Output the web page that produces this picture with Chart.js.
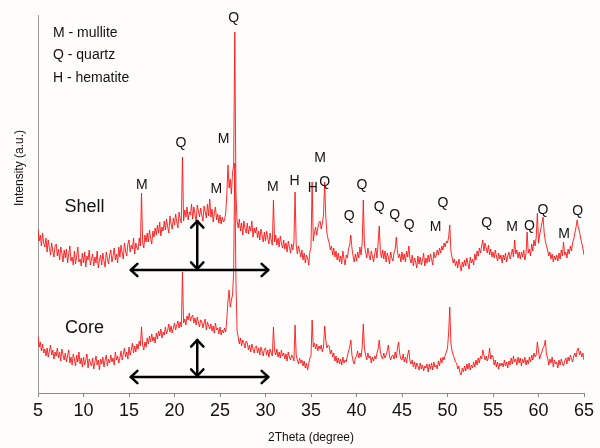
<!DOCTYPE html>
<html>
<head>
<meta charset="utf-8">
<script src="https://cdn.jsdelivr.net/npm/chart.js@4/dist/chart.umd.min.js"></script>
<style>
  html, body { margin: 0; padding: 0; background: #fffdfc; }
  #wrap { width: 600px; height: 448px; position: relative; }
</style>
</head>
<body>
<div id="wrap"><canvas id="xrd"></canvas></div>
<script>
// scan: 5 to 65 degrees 2Theta, step 0.125; one row = one degree
const thetaStart = 5;
const thetaStep = 0.125;

// intensity (a.u.)
const shell = [
  164,152,158,147,160,150,146,155,
  141,153,145,138,150,142,136,147,
  149,137,144,133,146,140,131,143,
  135,144,130,139,147,132,136,128,
  142,129,137,146,131,134,127,140,
  130,141,126,137,133,143,128,134,
  139,127,136,130,142,125,133,138,
  128,140,132,126,141,135,129,138,
  143,131,137,145,133,139,130,146,
  136,148,140,134,150,142,137,149,
  153,141,148,144,155,139,150,145,
  143,155,147,200,150,145,158,151,
  160,151,163,155,149,162,156,165,
  158,168,160,171,157,166,162,172,
  163,174,166,160,177,169,164,175,
  168,179,171,165,181,174,170,236,
  172,183,176,186,173,181,178,189,
  174,186,179,171,188,182,176,185,
  178,172,187,181,175,189,177,194,
  176,184,171,180,186,173,179,170,
  178,169,176,171,173,180,198,228,
  205,214,199,220,228,361,200,172,
  165,174,162,170,158,172,164,160,
  170,159,167,162,172,156,165,160,
  166,155,162,153,164,158,151,161,
  152,162,155,149,160,153,148,193,
  151,158,148,155,146,157,150,145,
  153,144,150,141,152,146,140,149,
  143,151,201,148,139,147,142,136,
  143,133,140,130,138,135,128,141,
  146,211,152,160,166,158,165,170,
  172,164,170,178,211,176,160,154,
  150,143,147,138,145,136,142,133,
  140,131,137,129,142,134,128,138,
  135,144,148,158,145,137,131,139,
  132,141,135,146,138,150,193,148,
  141,135,145,138,133,142,137,131,
  139,145,135,150,167,141,135,143,
  134,142,131,140,136,129,141,135,
  132,140,144,156,142,135,139,131,
  141,133,139,131,142,136,147,134,
  130,138,127,135,131,125,137,129,
  136,128,133,140,127,135,130,138,
  131,139,134,128,141,135,137,143,
  138,145,140,147,143,150,146,152,
  150,156,168,142,136,130,134,127,
  132,125,134,128,122,131,126,133,
  127,135,129,124,136,130,134,128,
  139,133,142,137,145,140,147,153,
  142,150,145,140,148,138,144,136,
  141,135,143,137,132,140,134,138,
  130,138,133,140,131,137,141,134,
  138,144,136,153,139,143,135,141,
  134,141,136,143,133,139,161,140,
  144,137,149,142,153,147,156,180,
  150,158,164,170,176,160,152,147,
  143,137,141,134,139,131,137,133,
  138,132,140,134,143,137,151,138,
  141,135,144,139,147,142,150,154,
  160,166,173,165,162,155,150,145,
  138
];

const core = [
  57,46,51,42,49,40,44,37,
  45,36,42,48,38,43,34,41,
  37,45,35,41,32,44,38,33,
  40,31,37,43,30,36,28,39,
  34,27,38,31,41,29,35,26,
  36,28,33,39,25,34,30,27,
  35,24,31,37,28,33,23,34,
  29,36,26,33,38,27,34,30,
  38,31,35,28,41,33,37,30,
  35,42,33,39,45,36,41,34,
  46,38,43,50,40,47,41,49,
  44,52,47,66,48,43,51,46,
  55,49,57,51,59,52,56,50,
  60,54,62,57,64,55,61,58,
  66,59,63,69,61,67,60,65,
  70,63,68,72,65,71,66,121,
  70,74,68,77,73,80,72,76,
  78,70,75,68,76,71,66,73,
  72,65,70,74,63,71,67,64,
  69,62,67,60,70,63,65,59,
  66,58,63,60,65,61,74,92,
  103,86,93,98,120,230,112,62,
  56,49,55,47,53,50,45,52,
  50,43,48,41,49,44,40,46,
  47,40,45,38,46,42,37,44,
  45,38,43,36,44,40,37,66,
  42,38,44,36,41,35,43,37,
  40,34,39,32,41,36,33,38,
  36,32,68,38,33,29,35,30,
  33,27,32,25,30,23,29,35,
  37,73,46,50,44,49,42,47,
  44,48,41,46,67,53,45,48,
  47,39,43,36,40,32,37,30,
  35,29,34,28,36,30,33,31,
  37,42,46,53,38,32,29,35,
  37,42,35,40,36,46,69,44,
  38,33,40,35,37,30,36,32,
  37,34,40,44,53,41,36,34,
  40,35,38,42,48,37,33,37,
  38,34,41,35,45,51,39,34,
  33,39,31,36,30,38,43,32,
  29,33,26,31,24,30,27,23,
  30,24,28,22,27,25,29,21,
  29,24,30,23,31,26,28,24,
  32,27,35,30,36,33,38,41,
  45,60,86,50,42,38,35,31,
  30,24,27,20,18,25,21,27,
  22,29,24,30,23,28,25,31,
  26,33,28,35,30,37,34,43,
  38,33,37,32,36,45,34,38,
  36,28,33,26,31,24,30,27,
  30,26,33,27,31,25,32,28,
  35,29,37,31,34,28,36,30,
  35,27,34,30,36,28,33,29,
  36,31,38,33,40,36,38,51,
  42,34,38,41,45,47,53,39,
  35,28,34,30,36,26,33,29,
  31,25,33,28,34,30,27,32,
  35,29,36,32,38,34,31,37,
  40,36,43,45,38,42,36,40,
  33
];

const xTicks = [5, 10, 15, 20, 25, 30, 35, 40, 45, 50, 55, 60, 65];

// phase labels: [text, 2Theta, intensity]
const peakLabels = [
  ['M', 16.4, 208], ['Q', 20.7, 250], ['M', 24.6, 204], ['M', 25.4, 254],
  ['Q', 26.5, 375], ['M', 30.8, 206], ['H', 33.2, 212], ['H', 35.2, 205],
  ['M', 36.0, 235], ['Q', 36.5, 211], ['Q', 39.2, 177], ['Q', 40.6, 208],
  ['Q', 42.5, 186], ['Q', 44.2, 178], ['Q', 45.8, 168], ['M', 48.7, 166],
  ['Q', 49.5, 190], ['Q', 54.3, 170], ['M', 57.1, 166], ['Q', 59.0, 167],
  ['Q', 60.5, 183], ['M', 62.8, 159], ['Q', 64.3, 182]
];
const legendLines = ['M - mullite', 'Q - quartz', 'H - hematite'];
const sampleNames = [['Shell', 10.1, 186], ['Core', 10.1, 65]];
// amorphous hump arrows: [from, to, baseline intensity, hump top intensity, hump 2Theta]
const humpArrows = [[15.2, 30.3, 123, 172, 22.5], [15.2, 30.3, 16, 53, 22.5]];

const font = 'Arial, "Liberation Sans", sans-serif';

function head(ctx, x, y, ang) {
  const s = 9;
  ctx.beginPath();
  ctx.moveTo(x + s * Math.cos(ang + 0.75), y + s * Math.sin(ang + 0.75));
  ctx.lineTo(x, y);
  ctx.lineTo(x + s * Math.cos(ang - 0.75), y + s * Math.sin(ang - 0.75));
  ctx.stroke();
}

const annotations = {
  id: 'annotations',
  afterDatasetsDraw(chart) {
    const { ctx, scales: { x, y } } = chart;
    ctx.save();
    ctx.fillStyle = '#111';
    ctx.textAlign = 'center';
    ctx.textBaseline = 'middle';
    ctx.font = '14px ' + font;
    peakLabels.forEach(([t, a, v]) => ctx.fillText(t, x.getPixelForValue(a), y.getPixelForValue(v)));

    ctx.font = '18px ' + font;
    sampleNames.forEach(([t, a, v]) => ctx.fillText(t, x.getPixelForValue(a), y.getPixelForValue(v)));

    ctx.font = '14px ' + font;
    ctx.textAlign = 'left';
    legendLines.forEach((t, i) => ctx.fillText(t, 53, 33 + i * 22.5));

    // y title sits above the middle of the axis
    ctx.font = '12px ' + font;
    ctx.textAlign = 'center';
    ctx.translate(20, 168);
    ctx.rotate(-Math.PI / 2);
    ctx.fillText('Intensity (a.u.)', 0, 0);
    ctx.setTransform(1, 0, 0, 1, 0, 0);

    ctx.strokeStyle = '#000';
    ctx.lineWidth = 2.5;
    ctx.lineCap = 'round';
    ctx.lineJoin = 'round';
    humpArrows.forEach(([a0, a1, base, top, mid]) => {
      const x0 = x.getPixelForValue(a0), x1 = x.getPixelForValue(a1);
      const yb = y.getPixelForValue(base), yt = y.getPixelForValue(top);
      const xm = x.getPixelForValue(mid);
      ctx.beginPath();
      ctx.moveTo(x0, yb); ctx.lineTo(x1, yb);
      ctx.moveTo(xm, yt); ctx.lineTo(xm, yb - 1);
      ctx.stroke();
      head(ctx, x0, yb, 0);
      head(ctx, x1, yb, Math.PI);
      head(ctx, xm, yt, Math.PI / 2);
      head(ctx, xm, yb - 1, -Math.PI / 2);
    });
    ctx.restore();
  }
};

const toXY = arr => arr.map((v, i) => ({ x: thetaStart + i * thetaStep, y: v }));

new Chart(document.getElementById('xrd'), {
  type: 'line',
  data: {
    datasets: [
      { label: 'Shell', data: toXY(shell), borderColor: 'rgba(255,20,20,0.9)', borderWidth: 1, pointRadius: 0, tension: 0 },
      { label: 'Core', data: toXY(core), borderColor: 'rgba(255,20,20,0.9)', borderWidth: 1, pointRadius: 0, tension: 0 }
    ]
  },
  options: {
    responsive: true,
    maintainAspectRatio: false,
    animation: false,
    layout: { padding: { top: 15, right: 16, left: 0, bottom: 0 } },
    plugins: { legend: { display: false }, tooltip: { enabled: false } },
    scales: {
      x: {
        type: 'linear',
        min: 5,
        max: 65,
        afterBuildTicks: scale => { scale.ticks = xTicks.map(v => ({ value: v })); },
        afterFit: scale => { scale.height = 55; },
        ticks: { font: { family: font, size: 18 }, color: '#111', padding: 3, maxRotation: 0 },
        grid: { drawOnChartArea: false, drawTicks: true, tickLength: 4, color: '#888' },
        border: { color: '#888' },
        title: { display: true, text: '2Theta (degree)', font: { family: font, size: 12 }, color: '#111', padding: { top: 0, bottom: 3 } }
      },
      y: {
        min: 0,
        max: 378,
        afterFit: scale => { scale.width = 38; },
        ticks: { display: false },
        grid: { display: false },
        border: { color: '#999' }
      }
    }
  },
  plugins: [annotations]
});
</script>
</body>
</html>
